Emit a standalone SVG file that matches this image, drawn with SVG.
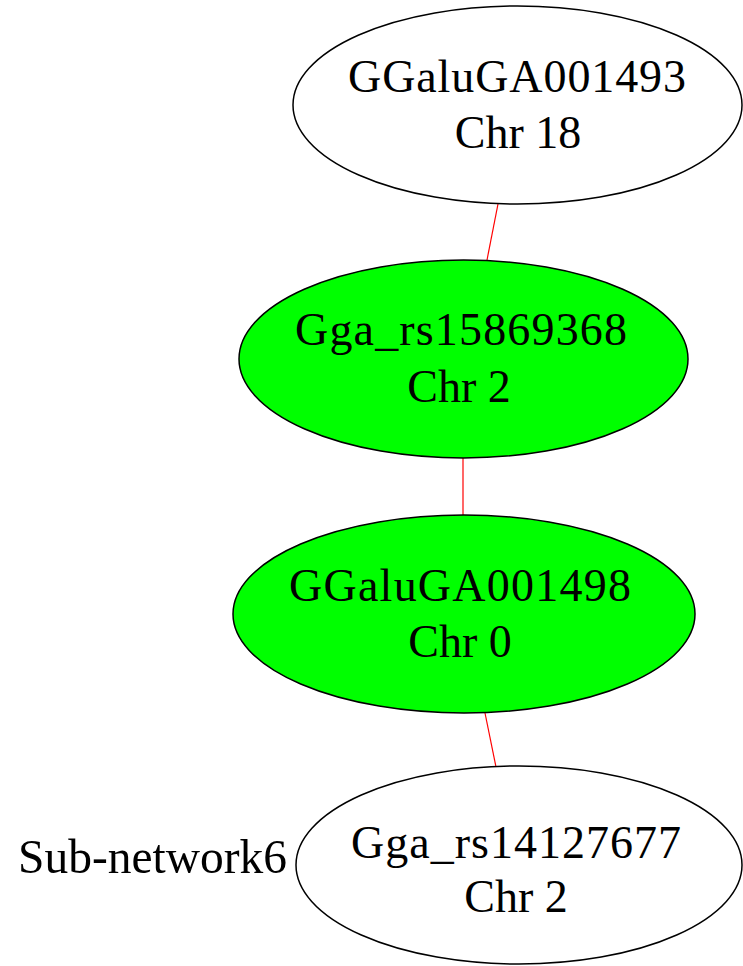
<svg xmlns="http://www.w3.org/2000/svg" width="743" height="966" viewBox="0 0 743 966">
<style>
.n{stroke:#000;stroke-width:1.5}
.w{fill:#fff}
.g{fill:#00ff00}
.t{font-family:"Liberation Serif","Times New Roman",serif;font-size:46px;fill:#000;text-anchor:middle}
.e{stroke:#ff0000;stroke-width:1.2;fill:none}
</style>
<rect width="743" height="966" fill="#fff"/>
<g id="edges">
<line class="e" x1="498" y1="204" x2="487" y2="260"/>
<line class="e" x1="463" y1="458" x2="463" y2="515"/>
<line class="e" x1="485" y1="713" x2="496" y2="767"/>
</g>
<g id="n1">
<ellipse class="n w" cx="517.5" cy="105" rx="224.5" ry="99"/>
<text class="t" x="517" y="92" textLength="338" lengthAdjust="spacing">GGaluGA001493</text>
<text class="t" x="518" y="148">Chr 18</text>
</g>
<g id="n2">
<ellipse class="n g" cx="463.5" cy="359" rx="224.5" ry="99"/>
<text class="t" x="461" y="345" textLength="332" lengthAdjust="spacing">Gga_rs15869368</text>
<text class="t" x="459" y="402">Chr 2</text>
</g>
<g id="n3">
<ellipse class="n g" cx="464" cy="614" rx="231" ry="99"/>
<text class="t" x="460" y="601" textLength="342" lengthAdjust="spacing">GGaluGA001498</text>
<text class="t" x="460" y="657">Chr 0</text>
</g>
<g id="n4">
<ellipse class="n w" cx="519" cy="865" rx="223" ry="99"/>
<text class="t" x="516" y="858" textLength="330" lengthAdjust="spacing">Gga_rs14127677</text>
<text class="t" x="516" y="912">Chr 2</text>
</g>
<text x="18" y="873" textLength="269" lengthAdjust="spacingAndGlyphs" style="font-family:'Liberation Serif','Times New Roman',serif;font-size:49px;fill:#000">Sub-network6</text>
</svg>
